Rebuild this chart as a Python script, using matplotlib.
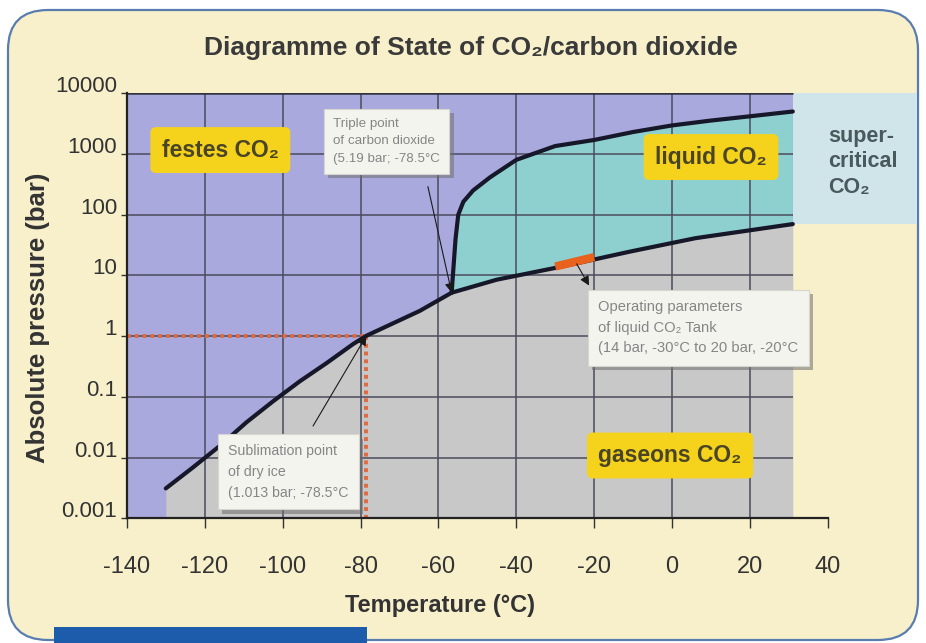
import numpy as np
import matplotlib
matplotlib.use("Agg")
import matplotlib.pyplot as plt
import matplotlib.patheffects as pe
from matplotlib.patches import FancyBboxPatch, Rectangle
from matplotlib.transforms import IdentityTransform, ScaledTranslation

plt.rcParams['font.family'] = ['Liberation Sans', 'DejaVu Sans']

# phase boundaries (temperature in degC, pressure in bar)
sub_T = [-130, -123, -116, -109.3, -102.4, -95.6, -88.7, -81.9, -78.5, -73.3, -64.8, -56.6]
sub_p = [0.0031, 0.0069, 0.0158, 0.038, 0.085, 0.18, 0.36, 0.74, 1.013, 1.45, 2.6, 5.19]
vap_T = [-56.6, -45, -28, -11, 6, 31]
vap_p = [5.19, 8.5, 14.1, 24.5, 41, 70]
melt_T = [-56.6, -55.6, -54.9, -53.6, -51.1, -46.8, -40, -30, -20, -10, 0, 10, 20, 31]
melt_p = [5.19, 40, 100, 163, 250, 410, 800, 1350, 1700, 2300, 2950, 3550, 4170, 5000]
triple = (-56.6, 5.19)
sublim = (-78.5, 1.013)
op_T = [-30, -20]
op_p = [14, 20]

x_ticks = [-140, -120, -100, -80, -60, -40, -20, 0, 20, 40]
x_labels = ['-140', '-120', '-100', '-80', '-60', '-40', '-20', '0', '20', '40']
y_ticks = [0.001, 0.01, 0.1, 1, 10, 100, 1000, 10000]
y_labels = ['0.001', '0.01', '0.1', '1', '10', '100', '1000', '10000']

c_solid = '#aaa9de'
c_liquid = '#8ed0d0'
c_gas = '#c8c8c8'
c_super = '#cfe5ea'
c_yellow = '#f5d21c'
c_line = '#16182a'

fig = plt.figure(figsize=(9.26, 6.43), dpi=100)
fig.patch.set_facecolor('white')

# card background with rounded blue border
card = FancyBboxPatch((8, 3), 910, 630, boxstyle='round,pad=0,rounding_size=40',
                      transform=IdentityTransform(), fc='#f7f0cb', ec='#5a7db0', lw=1.6, zorder=-10)
fig.patches.append(card)
fig.patches.append(Rectangle((54, 0), 313, 16, transform=IdentityTransform(),
                             fc='#1d5bab', ec='none', zorder=-9))

ax = fig.add_axes([0.137, 0.194, 0.757, 0.661])
ax.patch.set_alpha(0)
ax.set_yscale('log')
ax.set_xlim(-140, 40)
ax.set_ylim(0.001, 10000)
crit_T = vap_T[-1]

# phase regions
ax.fill_between([-140, crit_T], 0.001, 10000, color=c_solid, lw=0, zorder=0.5)
ax.fill_between(sub_T + vap_T[1:], 0.001, sub_p + vap_p[1:], color=c_gas, lw=0, zorder=0.6)
ax.fill(vap_T + melt_T[::-1], vap_p + melt_p[::-1], color=c_liquid, lw=0, zorder=0.7)
ax.add_patch(Rectangle((crit_T, vap_p[-1]), 32, 10000 - vap_p[-1], fc=c_super, ec='none',
                       clip_on=False, zorder=0.7))

# grid
ax.vlines(x_ticks[1:-1], 0.001, 10000, color='#4b4b5c', lw=1.1, zorder=1)
ax.hlines(y_ticks[1:-1], -140, crit_T, color='#4b4b5c', lw=1.1, zorder=1)
ax.hlines(10000, -140, crit_T, color='#333340', lw=1.8, zorder=1)

# dotted markers of 1 atm sublimation point
ax.plot([-140, sublim[0]], [sublim[1], sublim[1]], ls=(0, (1, 1)), color='#e06a40', lw=2.8, zorder=2)
ax.plot([sublim[0], sublim[0]], [sublim[1], 0.001], ls=(0, (1, 1)), color='#e06a40', lw=2.8, zorder=2)

# phase lines
ax.plot(sub_T, sub_p, color=c_line, lw=3, solid_capstyle='round', solid_joinstyle='round', zorder=3)
ax.plot(vap_T, vap_p, color=c_line, lw=3, solid_capstyle='round', solid_joinstyle='round', zorder=3)
ax.plot(melt_T, melt_p, color=c_line, lw=3, solid_capstyle='round', solid_joinstyle='round', zorder=3)
ax.plot(op_T, op_p, color='#e8621e', lw=6, solid_capstyle='butt', zorder=4)

# axes styling
for s in ['top', 'right']:
    ax.spines[s].set_visible(False)
ax.spines['bottom'].set_color('#222')
ax.spines['left'].set_color('#222')
ax.spines['bottom'].set_linewidth(1.6)
ax.spines['left'].set_linewidth(1.6)
ax.set_xticks(x_ticks)
ax.set_xticklabels(x_labels)
ax.set_yticks(y_ticks)
ax.set_yticklabels(y_labels)
ax.minorticks_off()
ax.tick_params(axis='x', direction='out', length=7, width=1, pad=20, labelsize=17, colors='#333')
ax.tick_params(axis='y', direction='out', length=4, width=1, pad=3, labelsize=16, colors='#333')
for lbl in ax.get_yticklabels():
    lbl.set_transform(lbl.get_transform() + ScaledTranslation(0, 0.09, fig.dpi_scale_trans))

# callout boxes
box_kw = dict(boxstyle='square,pad=0.7', fc='#f4f4ef', ec='#d6d6cf', lw=0.8)
shadow = [pe.withSimplePatchShadow(offset=(3, -3), shadow_rgbFace='#6d6d6d', alpha=0.55)]
callouts = [
    (-87.0, 3900, 9.6, 'Triple point\nof carbon dioxide\n(5.19 bar; -78.5°C'),
    (-19.0, 3.9, 10.6, 'Operating parameters\nof liquid CO₂ Tank\n(14 bar, -30°C to 20 bar, -20°C'),
    (-114.0, 0.0165, 10.2, 'Sublimation point\nof dry ice\n(1.013 bar; -78.5°C'),
]
for x, y, fs, s in callouts:
    t = ax.text(x, y, s, ha='left', va='top', fontsize=fs, color='#858585',
                linespacing=1.6, bbox=box_kw, zorder=6)
    t.get_bbox_patch().set_path_effects(shadow)

arrow_kw = dict(arrowstyle='-|>', color='#1a1a1a', lw=0.8, mutation_scale=14, shrinkA=0, shrinkB=0)
ax.annotate('', xy=triple, xytext=(-62.7, 290), arrowprops=arrow_kw, zorder=5)
ax.annotate('', xy=sublim, xytext=(-92.2, 0.033), arrowprops=arrow_kw, zorder=5)
ax.annotate('', xy=(-21.3, 6.8), xytext=(-24.5, 15.5), arrowprops=arrow_kw, zorder=5)

# phase labels
lab_kw = dict(ha='center', va='center', fontsize=16.5, fontweight='bold', color='#4a4526', zorder=6,
              bbox=dict(boxstyle='round,pad=0.5,rounding_size=0.25', fc=c_yellow, ec='none'))
ax.text(-116, 1160, 'festes CO₂', **lab_kw)
ax.text(10, 890, 'liquid CO₂', **lab_kw)
ax.text(-0.5, 0.0108, 'gaseons CO₂', **lab_kw)
ax.text(40.0, 740, 'super-\ncritical\nCO₂', ha='left', va='center', fontsize=15.5, fontweight='bold',
        color='#4a595d', linespacing=1.3, clip_on=False, zorder=6)

# titles
fig.text(0.508, 0.925, 'Diagramme of State of CO₂/carbon dioxide', ha='center', va='center',
         fontsize=19, fontweight='bold', color='#3a3a3a')
fig.text(0.041, 0.506, 'Absolute pressure (bar)', ha='center', va='center', rotation=90,
         fontsize=18.5, fontweight='bold', color='#333')
fig.text(0.475, 0.059, 'Temperature (°C)', ha='center', va='center',
         fontsize=17, fontweight='bold', color='#333')

fig.savefig('out.png', dpi=100)
